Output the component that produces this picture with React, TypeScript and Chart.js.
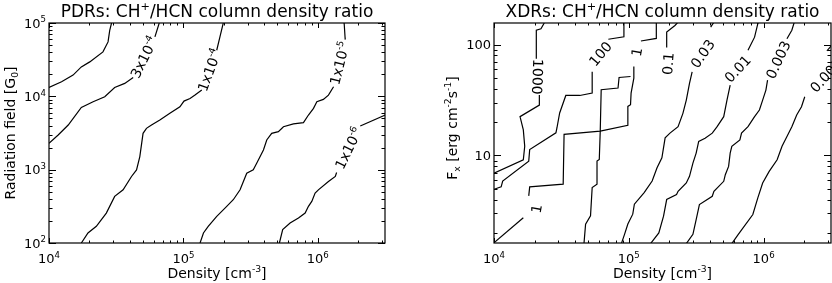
import React, { useEffect, useRef } from "react";
import { Chart, registerables } from "chart.js";

Chart.register(...registerables);

const FONT = '"DejaVu Sans", sans-serif';

// ---------------- PDR panel data: [density cm^-3, radiation field G0] ----------------
const pdrContourTop = [[1.0e4, 1.32e4], [1.24e4, 1.58e4], [1.51e4, 1.95e4], [1.74e4, 2.52e4], [2.01e4, 2.95e4], [2.52e4, 4.04e4], [2.75e4, 5.52e4], [2.83e4, 7.94e4], [2.92e4, 1.0e5]];
const pdr3e4Low = [[1.0e4, 2.29e3], [1.17e4, 2.97e3], [1.39e4, 4.06e3], [1.74e4, 7.06e3], [2.13e4, 8.43e3], [2.6e4, 9.86e3], [3.08e4, 1.32e4], [3.66e4, 1.5e4], [4.23e4, 1.81e4]];
const pdr3e4High = [[6.14e4, 6.46e4], [6.61e4, 1.0e5]];
const pdr1e4Low = [[1.74e4, 100], [1.95e4, 137], [2.25e4, 169], [2.67e4, 256], [3.08e4, 432], [3.56e4, 531], [4.11e4, 807], [4.48e4, 993], [4.74e4, 1510], [5.01e4, 3130], [5.31e4, 3660], [5.79e4, 4060], [6.68e4, 4750], [7.93e4, 5860], [9.42e4, 7210], [1.01e5, 8610], [1.12e5, 9350], [1.22e5, 1.04e4], [1.37e5, 1.22e4]];
const pdr1e4High = [[1.77e5, 4.25e4], [1.87e5, 6.46e4], [1.98e5, 1.0e5]];
const pdr1e5Low = [[1.33e5, 100], [1.41e5, 137], [1.53e5, 169], [1.77e5, 231], [2.1e5, 316], [2.35e5, 389], [2.64e5, 531], [2.96e5, 895], [3.31e5, 993], [3.51e5, 1220], [3.94e5, 1860], [4.17e5, 2540], [4.54e5, 3130], [5.09e5, 3300], [5.55e5, 3850], [6.59e5, 4200], [7.82e5, 4380], [8.52e5, 5560], [9.29e5, 6850], [9.84e5, 8430], [1.1e6, 9080], [1.2e6, 1.04e4], [1.31e6, 1.35e4]];
const pdr1e5High = [[1.6e6, 5.93e4], [1.57e6, 1.0e5]];
const pdr1e6Low = [[5.18e5, 100], [5.48e5, 152], [6.22e5, 187], [7.18e5, 219], [8.05e5, 256], [8.52e5, 316], [9.02e5, 369], [9.55e5, 479], [1.01e6, 531], [1.2e6, 690], [1.35e6, 807], [1.38e6, 914]];
const pdr1e6High = [[2.07e6, 3940], [3.18e6, 5560]];

const pdrLabelText = ["3x10^{-4}", "1x10^{-4}", "1x10^{-5}", "1x10^{-6}"];
const pdrLabelAt = [[5.08e4, 3.41e4], [1.56e5, 2.28e4], [1.45e6, 2.83e4], [1.69e6, 1960]];
const pdrLabelAngle = [-64, -70, -76, -64];

const pdrXTicks = [1e4, 1e5, 1e6];
const pdrXTickLabels = ["10^{4}", "10^{5}", "10^{6}"];
const pdrYTicks = [1e2, 1e3, 1e4, 1e5];
const pdrYTickLabels = ["10^{2}", "10^{3}", "10^{4}", "10^{5}"];

// ---------------- XDR panel data: [density cm^-3, Fx erg cm^-2 s^-1] ----------------
const xdr1000Low = [[1.0e4, 6.93], [1.65e4, 9.14], [1.69e4, 12.1], [1.65e4, 17.0], [1.56e4, 22.4], [2.17e4, 28.5], [2.17e4, 35.1]];
const xdr1000High = [[2.06e4, 74.8], [2.06e4, 135], [2.23e4, 139], [2.36e4, 157]];
const xdr100Low = [[1.0e4, 4.95], [1.13e4, 5.2], [1.16e4, 5.88], [1.81e4, 8.89], [1.84e4, 11.3], [2.88e4, 16.0], [2.93e4, 17.7], [3.07e4, 24.2], [3.41e4, 34.8], [4.33e4, 34.8], [5.35e4, 36.6], [5.35e4, 57.1]];
const xdr100High = [[7.05e4, 112], [9.2e4, 118], [9.2e4, 160]];
const xdr1A = [[1.0e4, 1.63], [1.65e4, 2.74]];
const xdr1B = [[1.81e4, 4.31], [1.84e4, 5.2], [3.26e4, 5.5], [3.31e4, 15.5], [6.14e4, 16.6], [9.84e4, 18.7], [9.84e4, 27.7], [1.03e5, 28.7], [1.04e5, 36.6], [1.09e5, 49.9], [1.09e5, 63.4]];
const xdr1C = [[1.23e5, 108], [1.6e5, 114], [1.6e5, 160]];
const xdr01Low = [[4.65e4, 1.6], [4.78e4, 2.4], [5.2e4, 2.85], [5.35e4, 5.13], [5.81e4, 5.5], [5.81e4, 8.89], [6.04e4, 9.2], [6.14e4, 16.6], [6.24e4, 39.2], [8.32e4, 40.6], [8.47e4, 50.6], [1.03e5, 51.6]];
const xdr01High = [[1.89e5, 95.3], [1.91e5, 130], [2.2e5, 149], [2.32e5, 160]];
const xdr003Low = [[8.81e4, 1.6], [9.31e4, 1.95], [9.84e4, 2.4], [1.07e5, 2.95], [1.1e5, 3.63], [1.3e5, 4.62], [1.49e5, 5.88], [1.62e5, 7.74], [1.76e5, 9.53], [1.86e5, 14.4], [2.02e5, 15.9], [2.32e5, 18.2], [2.52e5, 24.0], [2.67e5, 31.6], [2.82e5, 44.7], [2.95e5, 56.7]];
const xdr003High = [[4.05e5, 144], [4.28e5, 160]];
const xdr001Low = [[1.45e5, 1.6], [1.67e5, 2.0], [1.81e5, 2.83], [1.91e5, 4.0], [2.26e5, 4.44], [2.32e5, 4.75], [2.67e5, 5.64], [2.82e5, 6.48], [2.99e5, 8.53], [3.16e5, 10.5], [3.3e5, 13.4], [3.68e5, 14.3], [4.16e5, 15.9], [4.52e5, 18.2], [5.06e5, 22.4], [5.35e5, 31.6], [5.65e5, 43.2]];
const xdr001High = [[7.66e5, 88.9], [8.57e5, 117], [9.06e5, 155], [9.2e5, 160]];
const xdr0003Low = [[2.67e5, 1.6], [2.99e5, 1.94], [3.16e5, 2.64], [3.34e5, 3.6], [4.16e5, 4.28], [4.28e5, 4.75], [5.06e5, 5.84], [5.2e5, 6.7], [5.5e5, 7.96], [5.65e5, 10.5], [5.81e5, 12.1], [6.67e5, 13.8], [6.86e5, 15.9], [7.66e5, 18.2], [8.57e5, 22.4], [9.31e5, 25.7], [9.84e5, 31.6], [1.04e6, 38.9], [1.07e6, 47.9]];
const xdr0003High = [[1.49e6, 113], [1.62e6, 135], [1.69e6, 160]];
const xdr0001Low = [[5.81e5, 1.6], [6.49e5, 1.94], [8.32e5, 2.93], [9.06e5, 4.14], [9.84e5, 5.64], [1.1e6, 7.18], [1.26e6, 9.14], [1.37e6, 12.1], [1.49e6, 14.8], [1.62e6, 18.2], [1.76e6, 23.2], [1.91e6, 27.5], [2.02e6, 33.9]];
const xdr0001High = [[2.95e6, 88.0], [3.21e6, 99.0]];

const xdrLabelText = ["1000", "100", "1", "1", "0.1", "0.03", "0.01", "0.003", "0.001"];
const xdrLabelAt = [[2.11e4, 51.3], [6.14e4, 83.0], [1.14e5, 85.9], [2.06e4, 3.3], [1.95e5, 67.5], [3.52e5, 83.0], [6.41e5, 60.8], [1.28e6, 73.3], [2.9e6, 53.0]];
const xdrLabelAngle = [92, -50, -80, -80, -85, -55, -47, -65, -48];

const xdrXTicks = [1e4, 1e5, 1e6];
const xdrXTickLabels = ["10^{4}", "10^{5}", "10^{6}"];
const xdrYTicks = [10, 100];
const xdrYTickLabels = ["10", "100"];

// ---------------- rich text helper ----------------
type Seg = { t: string; v: number };
function parseRich(s: string): Seg[] {
  const out: Seg[] = [];
  let buf = "";
  let i = 0;
  while (i < s.length) {
    const c = s[i];
    if ((c === "^" || c === "_") && s[i + 1] === "{") {
      if (buf) { out.push({ t: buf, v: 0 }); buf = ""; }
      const j = s.indexOf("}", i);
      out.push({ t: s.slice(i + 2, j), v: c === "^" ? 1 : -1 });
      i = j + 1;
    } else { buf += c; i++; }
  }
  if (buf) out.push({ t: buf, v: 0 });
  return out;
}
function drawRich(ctx: CanvasRenderingContext2D, s: string, x: number, y: number, size: number, align: string, angle = 0, vcenter = false) {
  const segs = parseRich(s);
  const fontFor = (v: number) => `${v ? size * 0.66 : size}px ${FONT}`;
  let w = 0;
  for (const g of segs) { ctx.font = fontFor(g.v); w += ctx.measureText(g.t).width; }
  ctx.save();
  ctx.translate(x, y);
  ctx.rotate((angle * Math.PI) / 180);
  let cx = align === "center" ? -w / 2 : align === "right" ? -w : 0;
  const cy = vcenter ? size * 0.36 : 0;
  ctx.textBaseline = "alphabetic";
  ctx.textAlign = "left";
  ctx.fillStyle = "#000";
  for (const g of segs) {
    ctx.font = fontFor(g.v);
    const dy = g.v === 1 ? -size * 0.42 : g.v === -1 ? size * 0.22 : 0;
    ctx.fillText(g.t, cx, cy + dy);
    cx += ctx.measureText(g.t).width;
  }
  ctx.restore();
}

function minorTicks(min: number, max: number) {
  const out: number[] = [];
  for (let d = Math.floor(Math.log10(min)); d <= Math.ceil(Math.log10(max)); d++) {
    for (const m of [2, 3, 4, 5, 6, 7, 8, 9]) {
      const v = m * Math.pow(10, d);
      if (v > min && v < max) out.push(v);
    }
  }
  return out;
}

type Panel = {
  segments: number[][][];
  labelText: string[]; labelAt: number[][]; labelAngle: number[];
  xMin: number; xMax: number; yMin: number; yMax: number;
  xTicks: number[]; xTickLabels: string[]; yTicks: number[]; yTickLabels: string[];
  title: string; xTitle: string; yTitle: string;
  padding: { left: number; right: number; top: number; bottom: number };
  yTitleX: number; yTitleY: number;
};

const pdrPanel: Panel = {
  segments: [pdrContourTop, pdr3e4Low, pdr3e4High, pdr1e4Low, pdr1e4High, pdr1e5Low, pdr1e5High, pdr1e6Low, pdr1e6High],
  labelText: pdrLabelText, labelAt: pdrLabelAt, labelAngle: pdrLabelAngle,
  xMin: 1e4, xMax: Math.pow(10, 6.5), yMin: 100, yMax: 1e5,
  xTicks: pdrXTicks, xTickLabels: pdrXTickLabels, yTicks: pdrYTicks, yTickLabels: pdrYTickLabels,
  title: "PDRs: CH^{+}/HCN column density ratio",
  xTitle: "Density [cm^{-3}]",
  yTitle: "Radiation field [G_{0}]",
  padding: { left: 49, right: 31, top: 23, bottom: 40 },
  yTitleX: 9.5, yTitleY: 0,
};

const xdrPanel: Panel = {
  segments: [xdr1000Low, xdr1000High, xdr100Low, xdr100High, xdr1A, xdr1B, xdr1C, xdr01Low, xdr01High, xdr003Low, xdr003High, xdr001Low, xdr001High, xdr0003Low, xdr0003High, xdr0001Low, xdr0001High],
  labelText: xdrLabelText, labelAt: xdrLabelAt, labelAngle: xdrLabelAngle,
  xMin: 1e4, xMax: Math.pow(10, 6.5), yMin: 1.62, yMax: 157,
  xTicks: xdrXTicks, xTickLabels: xdrXTickLabels, yTicks: xdrYTicks, yTickLabels: xdrYTickLabels,
  title: "XDRs: CH^{+}/HCN column density ratio",
  xTitle: "Density [cm^{-3}]",
  yTitle: "F_{x} [erg cm^{-2}s^{-1}]",
  padding: { left: 78, right: 1, top: 23, bottom: 40 },
  yTitleX: 36, yTitleY: -5,
};

function framePlugin(p: Panel) {
  return {
    id: "idlFrame",
    afterDatasetsDraw(chart: any) {
      const ctx: CanvasRenderingContext2D = chart.ctx;
      const a = chart.chartArea;
      const xs = chart.scales.x;
      const ys = chart.scales.y;
      ctx.save();
      ctx.strokeStyle = "#000";
      ctx.lineWidth = 1.2;
      ctx.strokeRect(a.left, a.top, a.right - a.left, a.bottom - a.top);
      ctx.beginPath();
      const xt = (v: number, len: number) => {
        const px = Math.round(xs.getPixelForValue(v)) + 0.5;
        ctx.moveTo(px, a.bottom); ctx.lineTo(px, a.bottom - len);
        ctx.moveTo(px, a.top); ctx.lineTo(px, a.top + len);
      };
      const yt = (v: number, len: number) => {
        const py = Math.round(ys.getPixelForValue(v)) + 0.5;
        ctx.moveTo(a.left, py); ctx.lineTo(a.left + len, py);
        ctx.moveTo(a.right, py); ctx.lineTo(a.right - len, py);
      };
      p.xTicks.forEach((v) => xt(v, 5));
      minorTicks(p.xMin, p.xMax).forEach((v) => xt(v, 2.5));
      p.yTicks.forEach((v) => yt(v, 7));
      minorTicks(p.yMin, p.yMax).forEach((v) => yt(v, 3.5));
      ctx.lineWidth = 1;
      ctx.stroke();

      // tick labels
      p.xTicks.forEach((v, i) => drawRich(ctx, p.xTickLabels[i], xs.getPixelForValue(v), a.bottom + 20, 13, "center"));
      p.yTicks.forEach((v, i) => drawRich(ctx, p.yTickLabels[i], a.left - 3, ys.getPixelForValue(v), 13, "right", 0, true));

      // titles
      const cxm = (a.left + a.right) / 2;
      drawRich(ctx, p.title, cxm, 17, 17, "center");
      drawRich(ctx, p.xTitle, cxm, 278, 14, "center");
      drawRich(ctx, p.yTitle, p.yTitleX, (a.top + a.bottom) / 2 + p.yTitleY, 14, "center", -90, true);

      // contour labels
      p.labelText.forEach((t, i) => {
        const [lx, ly] = p.labelAt[i];
        drawRich(ctx, t, xs.getPixelForValue(lx), ys.getPixelForValue(ly), 14, "center", p.labelAngle[i], true);
      });
      ctx.restore();
    },
  };
}

function makePanel(canvas: HTMLCanvasElement, p: Panel) {
  return new Chart(canvas, {
    type: "scatter",
    data: {
      datasets: p.segments.map((seg) => ({
        data: seg.map(([x, y]) => ({ x, y })),
        showLine: true,
        borderColor: "#000",
        borderWidth: 1.2,
        pointRadius: 0,
        fill: false,
        tension: 0,
      })),
    },
    options: {
      responsive: false,
      animation: false,
      devicePixelRatio: 1,
      events: [],
      layout: { padding: p.padding },
      plugins: { legend: { display: false }, tooltip: { enabled: false }, title: { display: false } },
      scales: {
        x: { type: "logarithmic", min: p.xMin, max: p.xMax, bounds: "data", display: false },
        y: { type: "logarithmic", min: p.yMin, max: p.yMax, bounds: "data", display: false },
      },
    } as any,
    plugins: [framePlugin(p)],
  });
}

export default function App() {
  const leftRef = useRef<HTMLCanvasElement>(null);
  const rightRef = useRef<HTMLCanvasElement>(null);
  useEffect(() => {
    document.body.style.margin = "0";
    const c1 = makePanel(leftRef.current!, pdrPanel);
    const c2 = makePanel(rightRef.current!, xdrPanel);
    return () => { c1.destroy(); c2.destroy(); };
  }, []);
  return (
    <div style={{ position: "fixed", left: 0, top: 0, width: 832, height: 283, display: "flex", background: "#fff" }}>
      <canvas ref={leftRef} width={416} height={283} style={{ width: 416, height: 283, display: "block" }} />
      <canvas ref={rightRef} width={416} height={283} style={{ width: 416, height: 283, display: "block" }} />
    </div>
  );
}
